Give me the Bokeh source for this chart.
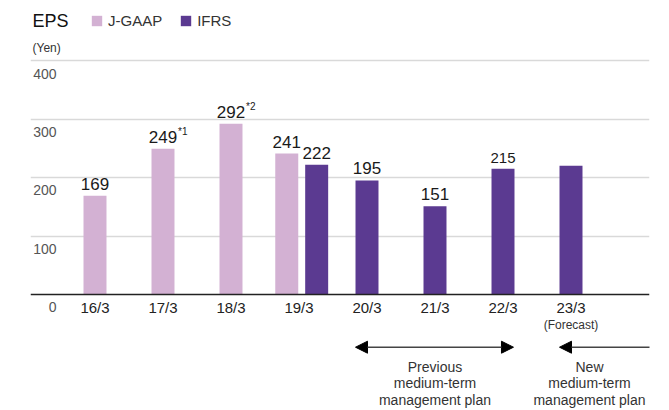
from bokeh.plotting import figure
from bokeh.models import Range1d, Span, Label, Arrow, NormalHead, Legend, LegendItem
from bokeh.core.properties import value
from bokeh.embed import file_html
from bokeh.resources import INLINE

# ---------------- data ----------------
categories = ["16/3", "17/3", "18/3", "19/3", "20/3", "21/3", "22/3", "23/3"]
jgaap_cats = ["16/3", "17/3", "18/3", "19/3"]
jgaap_vals = [169, 249, 292, 241]
jgaap_notes = ["", "*1", "*2", ""]
ifrs_cats = ["19/3", "20/3", "21/3", "22/3", "23/3"]
ifrs_vals = [222, 195, 151, 215, 220]
ifrs_labels = ["222", "195", "151", "215", ""]
y_ticks = [0, 100, 200, 300, 400]
grid_ticks = [100, 200, 300, 400]

# ---------------- style ----------------
FONT = "Liberation Sans"
C_JGAAP = "#d3b1d3"
C_IFRS = "#5b3a91"
BAR_W = 0.338
small_label_cats = {"22/3"}

idx = {c: i for i, c in enumerate(categories)}
shared = set(jgaap_cats) & set(ifrs_cats)
jx = [idx[c] + (-0.18 if c in shared else 0.0) for c in jgaap_cats]
ix = [idx[c] + (0.26 if c in shared else 0.0) for c in ifrs_cats]

p = figure(width=669, height=410, output_backend="svg", toolbar_location=None,
           x_range=Range1d(-0.9485, 8.1544), y_range=Range1d(-198.3, 502.6),
           x_axis_location=None, y_axis_location=None,
           min_border_left=30, min_border_right=20, min_border_top=0, min_border_bottom=0)
p.outline_line_color = None
p.xgrid.visible = False
p.ygrid.ticker = grid_ticks
p.ygrid.grid_line_color = "#d9d9d9"
p.ygrid.grid_line_width = 1.5

p.add_layout(Span(location=0, dimension="width", line_color="#222222", line_width=1.5))

rj = p.vbar(x=jx, top=jgaap_vals, width=BAR_W, bottom=0, fill_color=C_JGAAP, line_color=None)
ri = p.vbar(x=ix, top=ifrs_vals, width=BAR_W, bottom=0, fill_color=C_IFRS, line_color=None)

# value labels
p.text(x=jx, y=jgaap_vals, text=[str(v) for v in jgaap_vals], text_align="center",
       text_baseline="bottom", y_offset=-6, text_font=value(FONT),
       text_font_size="17px", text_color="#1a1a1a")
p.text(x=jx, y=jgaap_vals, text=jgaap_notes, text_align="left",
       text_baseline="bottom", x_offset=15, y_offset=-12, text_font=value(FONT),
       text_font_size="10px", text_color="#1a1a1a")
ifrs_sizes = ["15px" if c in small_label_cats else "17px" for c in ifrs_cats]
p.text(x=ix, y=ifrs_vals, text=ifrs_labels, text_align="center",
       text_baseline="bottom", y_offset=-6, text_font=value(FONT),
       text_font_size=ifrs_sizes, text_color="#1a1a1a")

# category tick labels
p.text(x=list(range(len(categories))), y=-22.2, text=categories, text_align="center",
       text_baseline="middle", text_font=value(FONT), text_font_size="15px",
       text_color="#222222")
# y tick labels (below their gridlines)
p.text(x=-0.566, y=[v - 22.2 for v in y_ticks], text=[str(v) for v in y_ticks],
       text_align="right", text_baseline="middle", text_font=value(FONT),
       text_font_size="14px", text_color="#555555")

def lab(x, y, text, size, color="#333333", align="left", baseline="middle"):
    p.add_layout(Label(x=x, y=y, text=text, text_font=FONT, text_font_size=size,
                       text_color=color, text_align=align, text_baseline=baseline))

lab(-0.919, 468.4, "EPS", "18px", "#111111")
lab(-0.919, 422.2, "(Yen)", "12px", "#333333")
lab(7.0, -51.3, "(Forecast)", "12px", "#333333", "center")

line_y = [-123.1, -152.1, -181.2]
for j, t in enumerate(["Previous", "medium-term", "management plan"]):
    lab(5.0, line_y[j], t, "14px", "#333333", "center", "alphabetic")
for j, t in enumerate(["New", "medium-term", "management plan"]):
    lab(7.272, line_y[j], t, "14px", "#333333", "center", "alphabetic")

p.add_layout(Arrow(x_start=3.831, y_start=-90.1, x_end=6.154, y_end=-90.1,
                   start=NormalHead(size=12, fill_color="black", line_color="black"),
                   end=NormalHead(size=12, fill_color="black", line_color="black"),
                   line_color="#444444", line_width=1.5))
p.add_layout(Arrow(x_start=8.3, y_start=-90.1, x_end=6.831, y_end=-90.1,
                   end=NormalHead(size=12, fill_color="black", line_color="black"),
                   line_color="#444444", line_width=1.5))

legend = Legend(items=[LegendItem(label="J-GAAP", renderers=[rj]),
                       LegendItem(label="IFRS", renderers=[ri])],
                orientation="horizontal", location=(60, 381),
                glyph_width=13, glyph_height=13, label_standoff=5, spacing=17,
                padding=0, margin=0, border_line_color=None, background_fill_alpha=0,
                label_text_font=FONT, label_text_font_size="15px", label_text_color="#333333",
                label_height=13)
p.add_layout(legend)

open("out.html", "w").write(file_html(p, INLINE))
